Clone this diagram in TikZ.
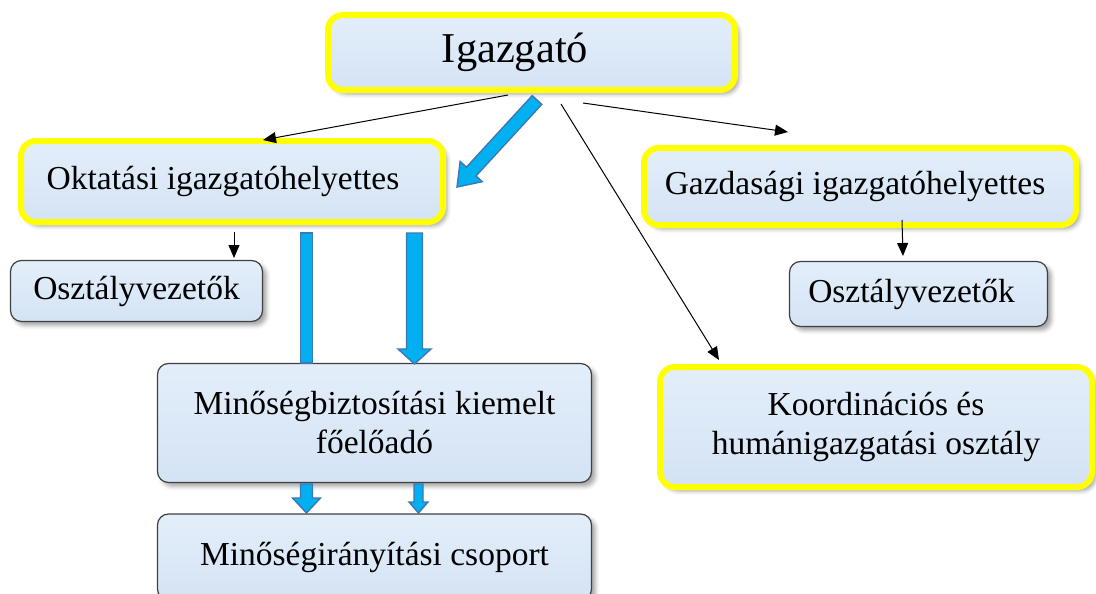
\documentclass[tikz,border=0pt]{standalone}
\usepackage{fontspec}
\setmainfont{Liberation Serif}
\usetikzlibrary{calc,arrows.meta,shadows.blur}

\definecolor{boxtop}{HTML}{E3EEFA}
\definecolor{boxbot}{HTML}{D4E3F5}
\definecolor{ylw}{HTML}{FFFF00}
\definecolor{edgegray}{HTML}{404040}
\definecolor{fatfill}{HTML}{00B0F0}
\definecolor{fatedge}{HTML}{3E78B2}

\tikzset{
  orgbox/.style={top color=boxtop, bottom color=boxbot, inner sep=0pt,
    blur shadow={shadow xshift=4pt, shadow yshift=-4pt, shadow blur radius=4pt, shadow opacity=35},
    font=\fontsize{33.5}{39}\selectfont},
  leadbox/.style={orgbox, draw=ylw, line width=6pt, rounded corners=15pt},
  subbox/.style={orgbox, draw=edgegray, line width=1.2pt, rounded corners=11pt},
  link/.style={draw=black, line width=1pt, -{Triangle[length=13pt,width=11pt]}},
  fatstyle/.style={fill=fatfill, draw=fatedge, line width=1.4pt, line join=miter},
}

% thick block arrow: start, end, half shaft width, half head width, head length
\newcommand{\fatarrow}[5]{%
  \coordinate (fa-s) at (#1);
  \coordinate (fa-e) at (#2);
  \coordinate (fa-h) at ($(fa-e)!#5!(fa-s)$);
  \draw[fatstyle]
    ($(fa-s)!#3!90:(fa-e)$) -- ($(fa-h)!#3!90:(fa-e)$) --
    ($(fa-h)!#4!90:(fa-e)$) -- (fa-e) --
    ($(fa-h)!#4!-90:(fa-e)$) -- ($(fa-h)!#3!-90:(fa-e)$) --
    ($(fa-s)!#3!-90:(fa-e)$) -- cycle;
}
% thick bar without a head: start, end, half width
\newcommand{\fatbar}[3]{%
  \coordinate (fb-s) at (#1);
  \coordinate (fb-e) at (#2);
  \draw[fatstyle]
    ($(fb-s)!#3!90:(fb-e)$) -- ($(fb-e)!#3!-90:(fb-s)$) --
    ($(fb-e)!#3!90:(fb-s)$) -- ($(fb-s)!#3!-90:(fb-e)$) -- cycle;
}

\begin{document}
\begin{tikzpicture}[x=1pt,y=1pt]
\useasboundingbox (0,0) rectangle (1096,-594);

% boxes
\node[leadbox, minimum width=407pt, minimum height=75pt,
      font=\fontsize{42.5}{48}\selectfont] (ig) at (531.5,-52.5) {Igazgató\hspace*{33pt}};
\node[leadbox, minimum width=422pt, minimum height=81pt] (ok) at (232,-181.5)
  {Oktatási igazgatóhelyettes\hspace*{18pt}};
\node[subbox, minimum width=252pt, minimum height=61pt] (osl) at (136.5,-291)
  {Osztályvezetők};
\node[leadbox, minimum width=432pt, minimum height=77pt] (gz) at (860,-186.5)
  {Gazdasági igazgatóhelyettes\hspace*{10pt}};
\node[subbox, minimum width=258pt, minimum height=65pt] (osr) at (918.5,-294)
  {Osztályvezetők\hspace*{14pt}};
\node[leadbox, minimum width=432pt, minimum height=120pt, align=center] (ko) at (876,-427)
  {Koordinációs és\\humánigazgatási osztály};
\node[subbox, minimum width=434pt, minimum height=119pt, align=center] (mb) at (374.5,-423)
  {Minőségbiztosítási kiemelt\\főelőadó};
\node[subbox, minimum width=434pt, minimum height=86pt] (mi) at (374.5,-557)
  {\raisebox{6pt}{Minőségirányítási csoport}};

% connector end points
\coordinate (ig-l) at (508,-95);
\coordinate (ok-t) at (263,-140);
\coordinate (ig-r) at (583,-103);
\coordinate (gz-t) at (788,-132);
\coordinate (ig-d) at (561,-104);
\coordinate (ko-t) at (719,-360);
\coordinate (ok-b) at (234,-232);
\coordinate (osl-t) at (234,-258);
\coordinate (gz-b) at (902,-220);
\coordinate (osr-t) at (903,-256);

\coordinate (ig-fat) at (537,-100);
\coordinate (ok-fat) at (457,-187);
\coordinate (ok-bar1) at (306.5,-233);
\coordinate (mb-bar1) at (306.5,-363);
\coordinate (ok-bar2) at (414.5,-233);
\coordinate (mb-bar2) at (414.5,-364);
\coordinate (mb-b1) at (306.5,-484);
\coordinate (mi-t1) at (306.5,-513);
\coordinate (mb-b2) at (418.5,-484);
\coordinate (mi-t2) at (418.5,-513);

% thin connectors
\draw[link] (ig-l) -- (ok-t);
\draw[link] (ig-r) -- (gz-t);
\draw[link] (ig-d) -- (ko-t);
\draw[link] (ok-b) -- (osl-t);
\draw[link] (gz-b) -- (osr-t);

% block arrows
\fatarrow{ig-fat}{ok-fat}{6.5pt}{15pt}{21pt}
\fatbar{ok-bar1}{mb-bar1}{6pt}
\fatarrow{ok-bar2}{mb-bar2}{8pt}{16.5pt}{15pt}
\fatarrow{mb-b1}{mi-t1}{6pt}{14pt}{15pt}
\fatarrow{mb-b2}{mi-t2}{4.5pt}{9.5pt}{11pt}
\end{tikzpicture}
\end{document}
